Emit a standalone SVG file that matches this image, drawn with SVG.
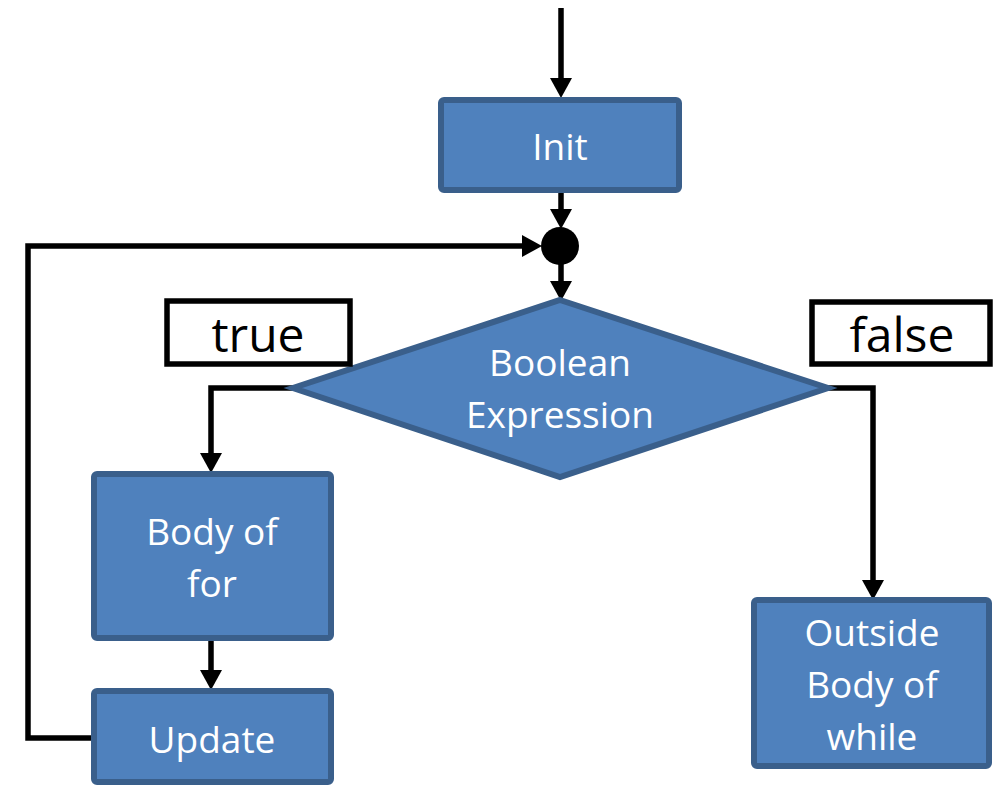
<svg xmlns="http://www.w3.org/2000/svg" width="993" height="785" viewBox="0 0 993 785">
<style>
.box{fill:#4F81BD;stroke:#3A5F8B;stroke-width:6}
.lbl{fill:#fff;stroke:#000;stroke-width:5.5}
.wt{fill:#fff;font-family:"Open Sans","Liberation Sans",sans-serif;font-size:37px;text-anchor:middle}
.bt{fill:#000;font-family:"Open Sans","Liberation Sans",sans-serif;font-size:48px;text-anchor:middle}
.con{fill:none;stroke:#000;stroke-width:5.5;stroke-linejoin:miter}
</style>
<defs>
<marker id="ah" viewBox="0 0 20 22" refX="0" refY="11" markerWidth="20" markerHeight="22" markerUnits="userSpaceOnUse" orient="auto">
<path d="M0,0 L20,11 L0,22 z" fill="#000"/>
</marker>
</defs>
<g id="connectors">
<path class="con" d="M561,8 V78" marker-end="url(#ah)"/>
<path class="con" d="M561,193 V209" marker-end="url(#ah)"/>
<path class="con" d="M561,262 V281" marker-end="url(#ah)"/>
<path class="con" d="M293,388 H211 V453" marker-end="url(#ah)"/>
<path class="con" d="M828,388 H873 V580" marker-end="url(#ah)"/>
<path class="con" d="M211,640 V670" marker-end="url(#ah)"/>
<path class="con" d="M93,738 H28 V246 H522" marker-end="url(#ah)"/>
</g>
<g id="junction"><circle cx="560" cy="246" r="19" fill="#000"/></g>
<g id="init">
<rect class="box" x="441" y="100" width="238" height="90" rx="3"/>
<text class="wt" x="560" y="160">Init</text>
</g>
<g id="decision">
<polygon class="box" points="560,300 828,388 560,477 293,388"/>
<text class="wt" x="560" y="376">Boolean</text>
<text class="wt" x="560" y="428">Expression</text>
</g>
<g id="true-label">
<rect class="lbl" x="167" y="301" width="183" height="63"/>
<text class="bt" x="258" y="352">true</text>
</g>
<g id="false-label">
<rect class="lbl" x="812" y="302" width="178" height="62"/>
<text class="bt" x="902" y="352">false</text>
</g>
<g id="body">
<rect class="box" x="94" y="474" width="237" height="164" rx="3"/>
<text class="wt" x="212" y="545">Body of</text>
<text class="wt" x="212" y="597">for</text>
</g>
<g id="update">
<rect class="box" x="94" y="691" width="237" height="91" rx="3"/>
<text class="wt" x="212" y="753">Update</text>
</g>
<g id="outside">
<rect class="box" x="754" y="600" width="235" height="166" rx="3"/>
<text class="wt" x="872" y="646">Outside</text>
<text class="wt" x="872" y="698">Body of</text>
<text class="wt" x="872" y="750">while</text>
</g>
</svg>
